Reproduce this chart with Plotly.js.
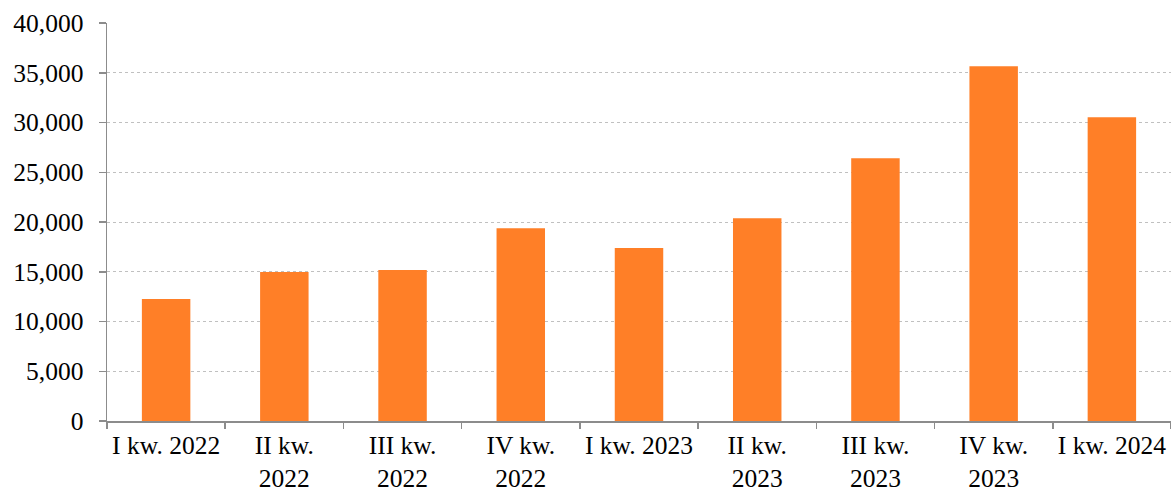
<!DOCTYPE html>
<html>
<head>
<meta charset="utf-8">
<script src="https://cdn.plot.ly/plotly-3.0.1.min.js"></script>
<style>html,body{margin:0;padding:0;background:#fff;}#chart{width:1171px;height:492px;}</style>
</head>
<body>
<div id="chart"></div>
<script>
const categories = ["I kw. 2022", "II kw.<br>2022", "III kw.<br>2022", "IV kw.<br>2022", "I kw. 2023", "II kw.<br>2023", "III kw.<br>2023", "IV kw.<br>2023", "I kw. 2024"];
const values = [12250, 14970, 15170, 19380, 17380, 20380, 26400, 35650, 30520];
const yTickVals = [0, 5000, 10000, 15000, 20000, 25000, 30000, 35000, 40000];
const yTickText = ["0", "5,000", "10,000", "15,000", "20,000", "25,000", "30,000", "35,000", "40,000"];

const trace = {
  type: "bar",
  x: categories,
  y: values,
  marker: {color: "#FF7F27"},
  hoverinfo: "none"
};

const fontFam = "Liberation Serif, Times New Roman, serif";

const layout = {
  width: 1171,
  height: 492,
  margin: {l: 107, r: 0, t: 23, b: 71, pad: 0},
  paper_bgcolor: "#ffffff",
  plot_bgcolor: "#ffffff",
  bargap: 0.59,
  showlegend: false,
  font: {family: fontFam, size: 25.5, color: "#000"},
  xaxis: {
    type: "category",
    showline: true,
    linecolor: "#8c8c8c",
    linewidth: 1.5,
    ticks: "outside",
    tickson: "boundaries",
    ticklen: 6,
    tickcolor: "#8c8c8c",
    tickwidth: 1.5,
    tickangle: 0,
    showgrid: false,
    ticklabelstandoff: 1,
    tickfont: {family: fontFam, size: 25.5, color: "#000"},
    fixedrange: true
  },
  yaxis: {
    range: [0, 40000],
    tickvals: yTickVals,
    ticktext: yTickText,
    showline: true,
    linecolor: "#8c8c8c",
    linewidth: 1.5,
    ticks: "outside",
    ticklen: 7,
    tickcolor: "#8c8c8c",
    tickwidth: 1.5,
    showgrid: true,
    gridcolor: "#c0c0c0",
    griddash: "dot",
    gridwidth: 1,
    zeroline: false,
    ticklabelstandoff: 10,
    tickfont: {family: fontFam, size: 25.5, color: "#000"},
    fixedrange: true
  }
};

Plotly.newPlot("chart", [trace], layout, {displayModeBar: false, staticPlot: true});
</script>
</body>
</html>
